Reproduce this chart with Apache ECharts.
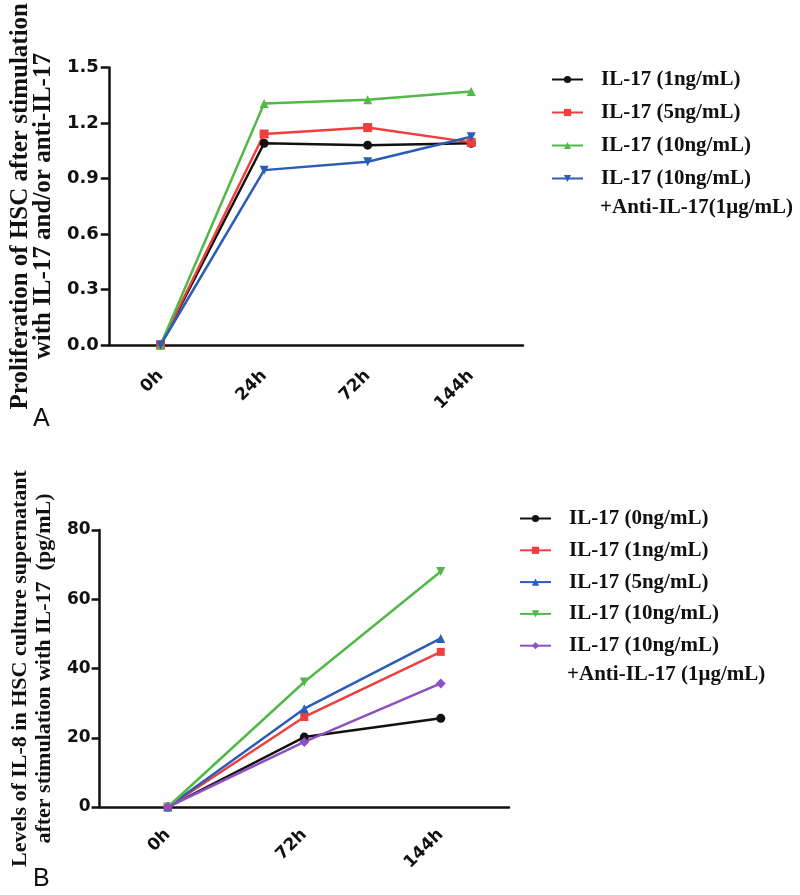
<!DOCTYPE html>
<html>
<head>
<meta charset="utf-8">
<script src="https://cdn.jsdelivr.net/npm/echarts@6/dist/echarts.min.js"></script>
<style>
html,body{margin:0;padding:0;background:#fff;}
#chart{width:800px;height:895px;}
</style>
</head>
<body>
<div id="chart"></div>
<script>
// ---- Panel A data ----
const timesA = ['0h', '24h', '72h', '144h'];
const ticksA = { min: 0, max: 1.5, interval: 0.3 };
const labelsA = ['IL-17 (1ng/mL)', 'IL-17 (5ng/mL)', 'IL-17 (10ng/mL)', 'IL-17 (10ng/mL)'];
const noteA = '+Anti-IL-17(1μg/mL)';
const a_1ng = [0, 1.09, 1.08, 1.09];
const a_5ng = [0, 1.14, 1.175, 1.095];
const a_10ng = [0, 1.305, 1.325, 1.37];
const a_anti = [0, 0.945, 0.99, 1.125];
const titleA = 'Proliferation of HSC after stimulation\nwith IL-17 and/or anti-IL-17';

// ---- Panel B data ----
const timesB = ['0h', '72h', '144h'];
const ticksB = { min: 0, max: 80, interval: 20 };
const labelsB = ['IL-17 (0ng/mL)', 'IL-17 (1ng/mL)', 'IL-17 (5ng/mL)', 'IL-17 (10ng/mL)', 'IL-17 (10ng/mL)'];
const noteB = '+Anti-IL-17 (1μg/mL)';
const b_0ng = [0, 20.2, 25.6];
const b_1ng = [0, 26.0, 44.8];
const b_5ng = [0, 28.4, 48.7];
const b_10ng = [0, 36.1, 68.0];
const b_anti = [0, 18.8, 35.7];
const titleB = 'Levels of IL-8 in HSC culture supernatant\nafter stimulation with IL-17  (pg/mL)';

const C = { black: '#111111', red: '#ee3f3f', green: '#52b848', blue: '#2a5cb8', purple: '#8c50c0' };

const chart = echarts.init(document.getElementById('chart'), null, { renderer: 'canvas' });

const serif = '"Liberation Serif", "Times New Roman", serif';
const sans = '"DejaVu Sans", sans-serif';

function mk(id, data, color, symbol, rot, xi, size) {
  return {
    id: id, name: id, type: 'line', data: data, xAxisIndex: xi, yAxisIndex: xi,
    symbol: symbol, symbolSize: size || 9, symbolRotate: rot || 0,
    lineStyle: { color: color, width: 2.5 },
    itemStyle: { color: color },
    emphasis: { disabled: true }, animation: false, z: 3
  };
}

const seriesA = [
  mk('A0', a_1ng, C.black, 'circle', 0, 0),
  mk('A1', a_5ng, C.red, 'rect', 0, 0, 9),
  mk('A2', a_10ng, C.green, 'triangle', 0, 0, 9),
  mk('A3', a_anti, C.blue, 'triangle', 180, 0, 9)
];
const seriesB = [
  mk('B0', b_0ng, C.black, 'circle', 0, 1),
  mk('B1', b_1ng, C.red, 'rect', 0, 1, 8),
  mk('B2', b_5ng, C.blue, 'triangle', 0, 1, 9),
  mk('B3', b_10ng, C.green, 'triangle', 180, 1, 9),
  mk('B4', b_anti, C.purple, 'diamond', 0, 1, 10)
];
const labelMap = {};
seriesA.forEach((s, i) => labelMap[s.id] = labelsA[i]);
seriesB.forEach((s, i) => labelMap[s.id] = labelsB[i]);

function xAx(cats, gi, margin) {
  return {
    type: 'category', data: cats, gridIndex: gi, boundaryGap: true,
    axisLine: { lineStyle: { color: '#111', width: 2.5 } },
    axisTick: { alignWithLabel: true, length: 8, lineStyle: { color: '#111', width: 2.5 } },
    axisLabel: { rotate: 45, margin: margin, fontFamily: sans, fontWeight: 'bold', fontSize: 17, color: '#111' },
    splitLine: { show: false }
  };
}
function yAx(t, gi, name, gap, fmt, margin, fs, nfs, nlh) {
  return {
    type: 'value', gridIndex: gi, min: t.min, max: t.max, interval: t.interval,
    name: name, nameLocation: 'middle', nameRotate: 90, nameGap: gap,
    nameTextStyle: { fontFamily: serif, fontWeight: 'bold', fontSize: nfs, lineHeight: nlh, color: '#111' },
    axisLine: { show: true, lineStyle: { color: '#111', width: 2.5 } },
    axisTick: { show: true, length: 8, lineStyle: { color: '#111', width: 2.5 } },
    axisLabel: { margin: margin, fontFamily: sans, fontWeight: 'bold', fontSize: fs, color: '#111', formatter: fmt },
    splitLine: { show: false }
  };
}
function legend(ids, left, top, gap) {
  return {
    data: ids, orient: 'vertical', left: left, top: top, itemGap: gap,
    itemWidth: 31, itemHeight: 9, selectedMode: false,
    formatter: n => labelMap[n],
    textStyle: { fontFamily: serif, fontWeight: 'bold', fontSize: 21, lineHeight: 21, color: '#111', padding: [0, 0, 0, 13] }
  };
}

chart.setOption({
  animation: false,
  backgroundColor: '#fff',
  grid: [
    { left: 96, top: 60, width: 427, height: 285 },
    { left: 90, top: 530, width: 419, height: 277 }
  ],
  xAxis: [xAx(timesA, 0, 28), xAx(timesB, 1, 25)],
  yAxis: [
    yAx(ticksA, 0, titleA, 50, v => v.toFixed(1), 10, 18, 25, 23),
    yAx(ticksB, 1, titleB, 40, v => String(v), 9, 17, 22, 24)
  ],
  legend: [
    legend(seriesA.map(s => s.id), 546, 64, 12),
    legend(seriesB.map(s => s.id), 514, 503, 10.8)
  ],
  graphic: [
    { type: 'text', left: 600, top: 197, style: { text: noteA, font: 'bold 21px ' + serif, fill: '#111' } },
    { type: 'text', left: 567, top: 664, style: { text: noteB, font: 'bold 21px ' + serif, fill: '#111' } },
    { type: 'text', left: 33, top: 407, style: { text: 'A', font: '25px "Liberation Sans", Arial, sans-serif', fill: '#111' } },
    { type: 'text', left: 33, top: 867, style: { text: 'B', font: '25px "Liberation Sans", Arial, sans-serif', fill: '#111' } }
  ],
  series: seriesA.concat(seriesB)
});
</script>
</body>
</html>
